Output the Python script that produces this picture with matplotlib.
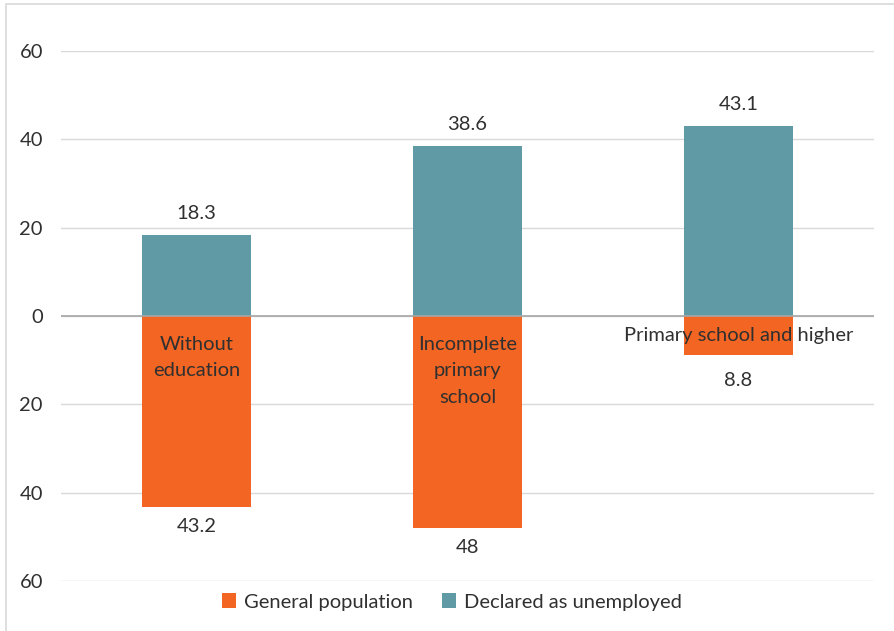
import matplotlib
matplotlib.use("Agg")
import matplotlib.pyplot as plt
from matplotlib.patches import Rectangle, Patch

categories = ["Without\neducation", "Incomplete\nprimary\nschool", "Primary school and higher"]
general_population = [43.2, 48, 8.8]
declared_unemployed = [18.3, 38.6, 43.1]
general_labels = ["43.2", "48", "8.8"]
declared_labels = ["18.3", "38.6", "43.1"]
y_ticks = [-60, -40, -20, 0, 20, 40, 60]
y_ticklabels = ["60", "40", "20", "0", "20", "40", "60"]
series_names = ["General population", "Declared as unemployed"]

plt.rcParams['font.family'] = ['Lato', 'DejaVu Sans']
TEXT = '#303030'
ORANGE = '#F26522'
TEAL = '#5F9AA5'
FS = 14.5

W, H = 895, 631
fig = plt.figure(figsize=(W / 100, H / 100), dpi=100)
fig.patch.set_facecolor('white')
# outer frame
fig.add_artist(Rectangle((6 / W, -0.05), 1.2, (H - 4) / H + 0.05, transform=fig.transFigure,
                         fill=False, edgecolor='#D9D9D9', linewidth=1.2))

ax = fig.add_axes([61 / W, 50 / H, (874 - 61) / W, (581 - 51) / H])
x = list(range(len(categories)))
bw = 0.40
ax.bar(x, [-v for v in general_population], width=bw, color=ORANGE, zorder=3)
ax.bar(x, declared_unemployed, width=bw, color=TEAL, zorder=3)

ax.set_xlim(-0.5, 2.5)
ax.set_ylim(-60, 60)
ax.set_yticks(y_ticks)
ax.set_yticklabels(y_ticklabels, fontsize=FS, color=TEXT)
ax.tick_params(axis='y', length=0, pad=13)
ax.set_xticks([])
ax.grid(axis='y', color='#D9D9D9', linewidth=1, zorder=0)
for s in ax.spines.values():
    s.set_visible(False)
ax.axhline(0, color='#A6A6A6', linewidth=1.2, zorder=4)

for i in x:
    ax.text(i, declared_unemployed[i] + 4.8, declared_labels[i], ha='center', va='center',
            fontsize=FS, color=TEXT)
    neg_off = 4.5 if general_population[i] > 20 else 5.8
    ax.text(i, -general_population[i] - neg_off, general_labels[i], ha='center', va='center',
            fontsize=FS, color=TEXT)
    cat_y = -4.6 if "\n" in categories[i] else -2.6
    ax.text(i, cat_y, categories[i], ha='center', va='top', fontsize=FS, color=TEXT,
            linespacing=1.65, zorder=5)

handles = [Patch(facecolor=ORANGE), Patch(facecolor=TEAL)]
fig.legend(handles, series_names, loc='center', bbox_to_anchor=(452 / W, 1 - 602 / H),
           ncol=2, frameon=False, fontsize=FS, handlelength=0.7, handleheight=0.7,
           handletextpad=0.4, columnspacing=1.4, labelcolor=TEXT)

fig.savefig('out.png', dpi=100, facecolor='white')
